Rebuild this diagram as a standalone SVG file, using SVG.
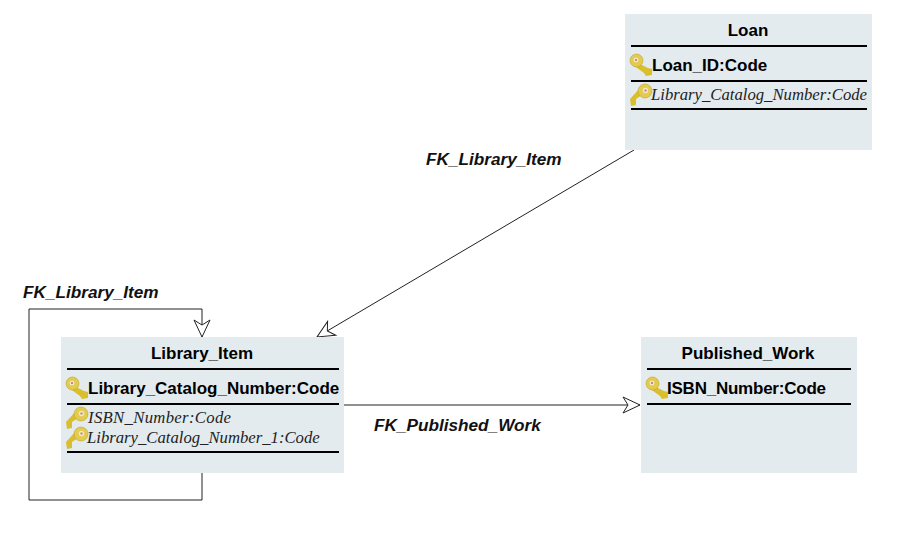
<svg xmlns="http://www.w3.org/2000/svg" width="922" height="543" viewBox="0 0 922 543">
<style>
.box{fill:#e4ebef}
.rule{stroke:#000;stroke-width:2;fill:none}
.t{font:bold 17px "Liberation Sans",Arial,sans-serif;text-anchor:middle;fill:#000}
.pk{font:bold 17px "Liberation Sans",Arial,sans-serif;fill:#000}
.fk{font:italic 16.7px "Liberation Serif","Times New Roman",serif;fill:#222}
.lbl{font:italic bold 17.2px "Liberation Sans",Arial,sans-serif;fill:#111}
.conn{fill:none;stroke:#222;stroke-width:1}
.kb{fill:#e3cb4e;stroke:#c0a428;stroke-width:.6}
.kh{fill:#d9be2e;stroke:none}
</style>
<defs>
<g id="pkey">
<path class="kh" d="M6 8 L18 14 L22 15 L22 21 L16 22 L14 19 L3 11Z"/>
<circle class="kb" cx="6.500" cy="6.500" r="6.500"/>
<circle cx="6" cy="6" r="3" fill="#f7edc0" stroke="#e0c85a"/>
<circle cx="6" cy="6" r="1.200" fill="#c08a90"/>
</g>
<g id="fkey">
<path class="kh" d="M15 9 L6 15 L6 21 L1 22 L0 15 L10 4Z"/>
<circle class="kb" cx="15" cy="7" r="7"/>
<circle cx="15.500" cy="6.500" r="3.200" fill="#f7edc0" stroke="#e0c85a"/>
<circle cx="15.500" cy="6.500" r="1.200" fill="#c08a90"/>
</g>
<marker id="open" markerUnits="userSpaceOnUse" markerWidth="20" markerHeight="20" refX="17" refY="8" orient="auto" overflow="visible">
<path d="M0 0 L17 8 L0 16 L5 8Z" fill="#fff" stroke="#222" stroke-width="1"/>
</marker>
</defs>
<g id="connectors">
<path class="conn" d="M634 150 L317 337" marker-end="url(#open)"/>
<path class="conn" d="M344 405 L640 405" marker-end="url(#open)"/>
<path class="conn" d="M202 473 V500 H29 V309 H202 V337" marker-end="url(#open)"/>
<text class="lbl" x="426" y="165">FK_Library_Item</text>
<text class="lbl" x="23" y="298">FK_Library_Item</text>
<text class="lbl" x="374" y="431">FK_Published_Work</text>
</g>
<g id="loan">
<rect class="box" x="625" y="14" width="247" height="136"/>
<text class="t" x="748" y="36">Loan</text>
<path class="rule" d="M631 46 H867 M631 81 H867 M631 109 H867"/>
<use href="#pkey" x="630" y="54"/>
<text class="pk" x="652" y="71">Loan_ID:Code</text>
<use href="#fkey" x="630" y="84"/>
<text class="fk" x="651" y="100">Library_Catalog_Number:Code</text>
</g>
<g id="library_item">
<rect class="box" x="61" y="337" width="283" height="136"/>
<text class="t" x="202" y="359">Library_Item</text>
<path class="rule" d="M67 369 H339 M67 404 H339 M67 452 H339"/>
<use href="#pkey" x="66" y="377"/>
<text class="pk" x="88" y="394">Library_Catalog_Number:Code</text>
<use href="#fkey" x="66" y="407"/>
<text class="fk" x="88" y="423" textLength="143">ISBN_Number:Code</text>
<use href="#fkey" x="66" y="427"/>
<text class="fk" x="87" y="443">Library_Catalog_Number_1:Code</text>
</g>
<g id="published_work">
<rect class="box" x="641" y="337" width="216" height="136"/>
<text class="t" x="748" y="359">Published_Work</text>
<path class="rule" d="M647 369 H851 M647 404 H851"/>
<use href="#pkey" x="646" y="377"/>
<text class="pk" x="667" y="394" textLength="159">ISBN_Number:Code</text>
</g>
</svg>
